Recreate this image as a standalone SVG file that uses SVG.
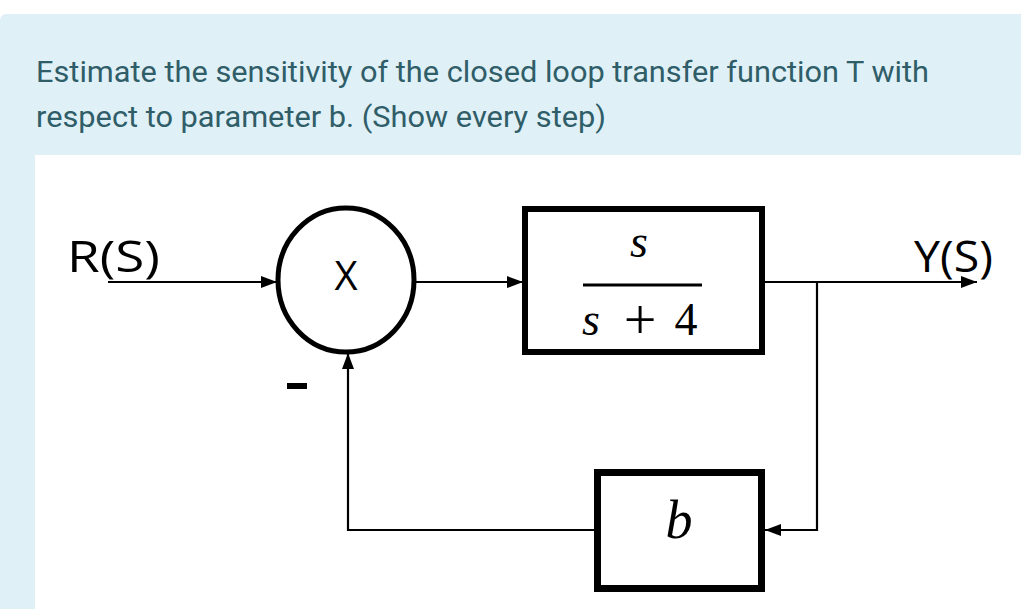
<svg xmlns="http://www.w3.org/2000/svg" width="1021" height="609" viewBox="0 0 1021 609">
<style>
.q{font-family:Roboto,"Liberation Sans",sans-serif;font-size:30px;fill:#2f5d68}
.lbl{font-family:"Open Sans","Liberation Sans",Arial,sans-serif;fill:#000}
.m{font-family:"Liberation Serif","Times New Roman",serif;fill:#000}
.c{fill:none;stroke:#000;stroke-width:2.2}
.blk{fill:#fff;stroke:#000}
</style>
<defs>
<marker id="ah" markerWidth="16" markerHeight="12" refX="16" refY="6" orient="auto" markerUnits="userSpaceOnUse">
<path d="M0,0 L16,6 L0,12 Z" fill="#000"/>
</marker>
</defs>
<rect x="0" y="0" width="1021" height="609" fill="#fff"/>
<rect x="0" y="14" width="1030" height="620" rx="6" fill="#dff0f7"/>
<rect x="35" y="155" width="986" height="454" fill="#fff"/>
<text class="q" x="36" y="82" textLength="893" lengthAdjust="spacingAndGlyphs">Estimate the sensitivity of the closed loop transfer function T with</text>
<text class="q" x="36" y="127" textLength="570" lengthAdjust="spacingAndGlyphs">respect to parameter b. (Show every step)</text>

<g id="connectors">
<path class="c" d="M108,282 H277" marker-end="url(#ah)"/>
<path class="c" d="M416,282 H523" marker-end="url(#ah)"/>
<path class="c" d="M765,282 H977" marker-end="url(#ah)"/>
<path class="c" d="M817,282 V530 H765" marker-end="url(#ah)"/>
<path class="c" d="M594,530 H348 V353" marker-end="url(#ah)"/>
</g>

<g id="sum">
<ellipse cx="346" cy="280" rx="68" ry="72" fill="#fff" stroke="#000" stroke-width="5"/>
<text class="lbl" x="346" y="290" font-size="40" text-anchor="middle">X</text>
</g>

<g id="plant">
<rect class="blk" x="525" y="209" width="237" height="143" stroke-width="6"/>
<text class="m" x="639" y="257" font-size="46" font-style="italic" text-anchor="middle">s</text>
<line x1="583" y1="285" x2="702" y2="285" stroke="#000" stroke-width="3"/>
<text class="m" x="582" y="335" font-size="46" font-style="italic">s</text>
<text class="m" x="640" y="339" font-size="58" text-anchor="middle">+</text>
<text class="m" x="686" y="335" font-size="46" text-anchor="middle">4</text>
</g>

<g id="feedback">
<rect class="blk" x="597.5" y="472.5" width="164" height="116" stroke-width="7"/>
<text class="m" x="679" y="538" font-size="54" font-style="italic" text-anchor="middle">b</text>
</g>

<g id="labels">
<text class="lbl" x="67" y="272" font-size="44" textLength="93" lengthAdjust="spacingAndGlyphs">R(S)</text>
<text class="lbl" x="914" y="272" font-size="43" textLength="79" lengthAdjust="spacingAndGlyphs">Y(S)</text>
<rect x="287" y="383" width="20" height="6" fill="#000"/>
</g>
</svg>
